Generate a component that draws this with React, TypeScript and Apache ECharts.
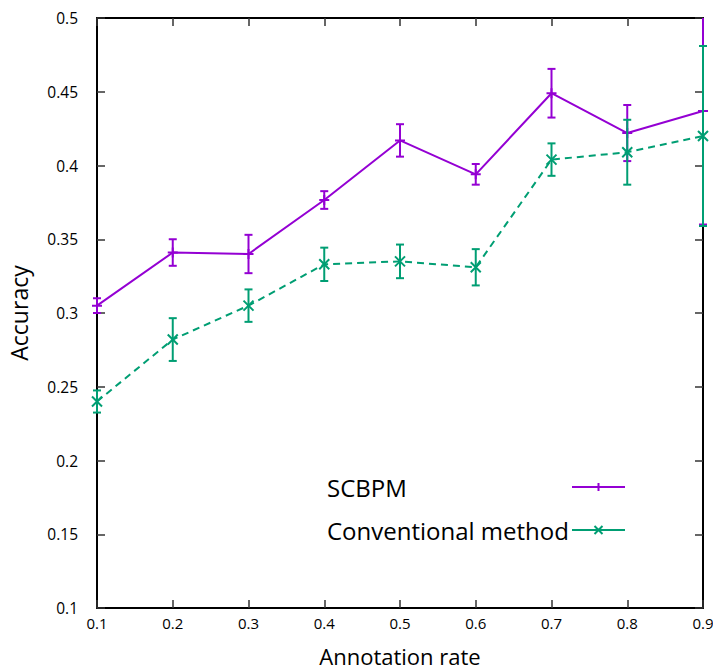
import React, { useEffect, useRef } from "react";
import * as echarts from "echarts";

const rates = [0.1, 0.2, 0.3, 0.4, 0.5, 0.6, 0.7, 0.8, 0.9];
const scbpm = [0.305, 0.341, 0.340, 0.3766, 0.417, 0.394, 0.449, 0.422, 0.437];
const scbpmErr = [0.005, 0.009, 0.013, 0.006, 0.011, 0.007, 0.0165, 0.019, 0.077];
const conv = [0.240, 0.282, 0.305, 0.333, 0.335, 0.331, 0.404, 0.409, 0.420];
const convErr = [0.0075, 0.0145, 0.011, 0.0113, 0.0114, 0.0123, 0.011, 0.022, 0.061];

const PURPLE = "#9400d3";
const TEAL = "#009e73";
const FONT = "Open Sans";

const plusPath = "path://M0,5L10,5M5,0L5,10";
const crossPath = "path://M0,0L10,10M10,0L0,10";

function errRender(color: string) {
  return (params: any, api: any) => {
    const x = api.value(0);
    const lo = api.value(2);
    const hi = api.value(3);
    const cs = params.coordSys;
    const top = cs.y;
    const bottom = cs.y + cs.height;
    const pLo = api.coord([x, lo]);
    const pHi = api.coord([x, hi]);
    const half = 4;
    const style = { stroke: color, lineWidth: 2 };
    const yHi = Math.max(pHi[1], top);
    const yLo = Math.min(pLo[1], bottom);
    const children: any[] = [
      { type: "line", shape: { x1: pLo[0], y1: yLo, x2: pHi[0], y2: yHi }, style },
    ];
    if (pHi[1] >= top) children.push({ type: "line", shape: { x1: pHi[0] - half, y1: pHi[1], x2: pHi[0] + half, y2: pHi[1] }, style });
    if (pLo[1] <= bottom) children.push({ type: "line", shape: { x1: pLo[0] - half, y1: pLo[1], x2: pLo[0] + half, y2: pLo[1] }, style });
    return { type: "group", children };
  };
}

export default function App() {
  const ref = useRef<HTMLDivElement>(null);
  useEffect(() => {
    document.body.style.margin = "0";
    const chart = echarts.init(ref.current!, null, { renderer: "svg" });
    const axisLineStyle = { color: "#000", width: 2 };
    const tick = { show: true, inside: true, length: 8, lineStyle: { color: "#333", width: 1.5 } };
    chart.setOption({
      animation: false,
      backgroundColor: "#fff",
      grid: { left: 97, right: 10, top: 18, bottom: 64, containLabel: false, outerBoundsMode: "none" },
      legend: {
        data: ["SCBPM", "Conventional method"],
        orient: "vertical",
        left: 322,
        top: 470,
        align: "right",
        itemWidth: 53,
        itemHeight: 10,
        itemGap: 19,
        lineStyle: { type: "solid", width: 2 },
        formatter: (name: string) => `{t|${name}}`,
        textStyle: {
          fontFamily: FONT,
          fontSize: 24,
          color: "#000",
          rich: {
            t: { fontFamily: FONT, fontSize: 24, color: "#000", width: 240, align: "left", lineHeight: 32 },
          },
        },
      },
      xAxis: [
        {
          type: "value",
          min: 0.1,
          max: 0.9,
          interval: 0.1,
          name: "Annotation rate",
          nameLocation: "middle",
          nameGap: 37,
          nameTextStyle: { fontFamily: FONT, fontSize: 22, color: "#000" },
          axisLine: { show: true, lineStyle: axisLineStyle },
          axisTick: tick,
          axisLabel: { fontFamily: FONT, fontSize: 15, color: "#000", margin: 7 },
          splitLine: { show: false },
        },
        {
          type: "value",
          position: "top",
          min: 0.1,
          max: 0.9,
          interval: 0.1,
          axisLine: { show: true, lineStyle: axisLineStyle },
          axisTick: tick,
          axisLabel: { show: false },
          splitLine: { show: false },
        },
      ],
      yAxis: [
        {
          type: "value",
          min: 0.1,
          max: 0.5,
          interval: 0.05,
          name: "Accuracy",
          nameLocation: "middle",
          nameGap: 67,
          nameRotate: 90,
          nameTextStyle: { fontFamily: FONT, fontSize: 23, color: "#000" },
          axisLine: { show: true, lineStyle: axisLineStyle },
          axisTick: tick,
          axisLabel: { fontFamily: FONT, fontSize: 15.5, color: "#000", margin: 19, padding: [0, 0, 6, 0] },
          splitLine: { show: false },
        },
        {
          type: "value",
          position: "right",
          min: 0.1,
          max: 0.5,
          interval: 0.05,
          axisLine: { show: true, lineStyle: axisLineStyle },
          axisTick: tick,
          axisLabel: { show: false },
          splitLine: { show: false },
        },
      ],
      series: [
        {
          name: "SCBPM",
          type: "line",
          data: rates.map((r, i) => [r, scbpm[i]]),
          symbol: plusPath,
          symbolSize: 10,
          color: PURPLE,
          lineStyle: { color: PURPLE, width: 2 },
          itemStyle: { color: PURPLE, borderColor: PURPLE, borderWidth: 2 },
          z: 2,
        },
        {
          name: "SCBPM err",
          type: "custom",
          data: rates.map((r, i) => [r, scbpm[i], scbpm[i] - scbpmErr[i], scbpm[i] + scbpmErr[i]]),
          encode: { x: 0, y: 1 },
          renderItem: errRender(PURPLE),
          z: 2,
        },
        {
          name: "Conventional method",
          type: "line",
          data: rates.map((r, i) => [r, conv[i]]),
          symbol: crossPath,
          symbolSize: 10,
          color: TEAL,
          lineStyle: { color: TEAL, width: 2, type: [7, 5] },
          itemStyle: { color: TEAL, borderColor: TEAL, borderWidth: 2 },
          z: 3,
        },
        {
          name: "Conventional err",
          type: "custom",
          data: rates.map((r, i) => [r, conv[i], conv[i] - convErr[i], conv[i] + convErr[i]]),
          encode: { x: 0, y: 1 },
          renderItem: errRender(TEAL),
          z: 3,
        },
      ],
    });
    return () => chart.dispose();
  }, []);
  return <div ref={ref} style={{ width: 713, height: 672 }} />;
}
